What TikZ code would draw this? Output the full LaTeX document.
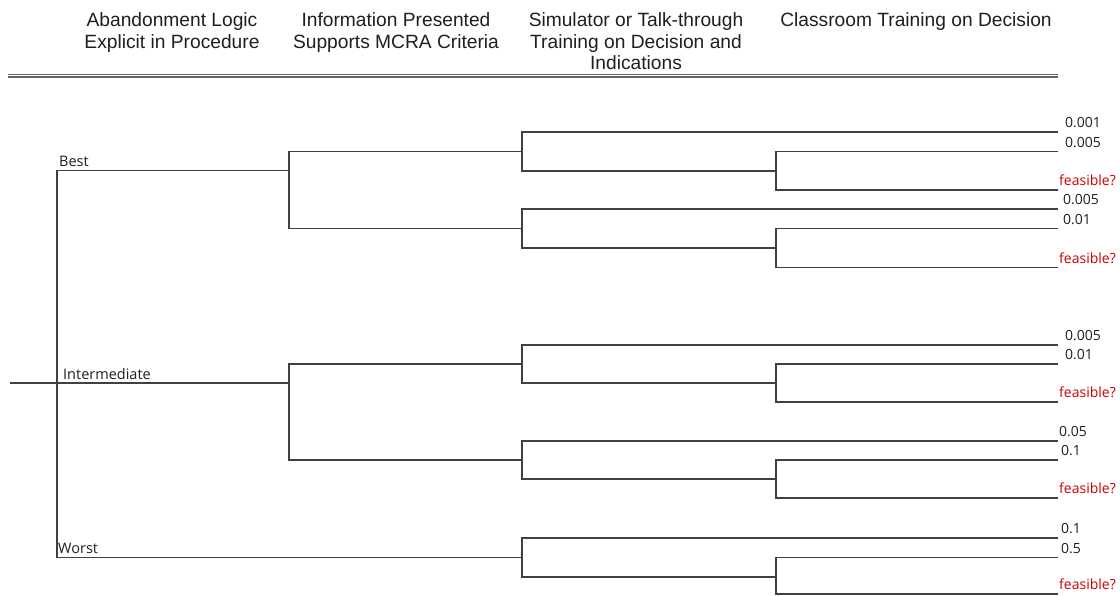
\documentclass[tikz,border=0pt]{standalone}
\usepackage{fontspec}
\setmainfont{Liberation Sans}
\newfontfamily\leaffont{Open Sans}
\begin{document}
\begin{tikzpicture}[x=1pt,y=-1pt,
  branch/.style={draw=black!75, line width=1.3pt},
  headrule/.style={draw=black!60, double=white, double distance=1.8pt, line width=1.1pt},
  head/.style={font=\fontsize{19.2}{21.5}\selectfont, align=center, inner sep=0pt, anchor=north, text=black!88},
  tag/.style={font=\leaffont\fontsize{14.5}{17}\selectfont, inner sep=0pt, anchor=base west, text=black!88},
  leafval/.style={tag, font=\leaffont\fontsize{14}{16}\selectfont},
  openq/.style={leafval, text=red!80!black}]
\useasboundingbox (0,0) rectangle (1120,595);

% column headings
\node[head] (c1) at (172,12.5) {Abandonment Logic\\Explicit in Procedure};
\node[head] (c2) at (396,12.5) {Information Presented\\Supports MCRA Criteria};
\node[head] (c3) at (636,12.5) {Simulator or Talk-through\\Training on Decision and\\Indications};
\node[head] (c4) at (916,12.5) {Classroom Training on Decision};

% double rule under the headings
\coordinate (r0) at (8,75.5);
\coordinate (r1) at (1058,75.5);
\draw[headrule] (r0) -- (r1);

% first decision: abandonment logic
\coordinate (root) at (10,383);
\coordinate (n0) at (57,383);
\coordinate (best) at (289,170.5);
\coordinate (inter) at (289,383);
\draw[branch] (root) -- (n0);
\draw[branch] (n0) |- (best);
\draw[branch] (n0) |- (inter);

\node[tag] (lbest) at (59,166.5) {Best};
\node[tag] (linter) at (63,379) {Intermediate};
\node[tag] (lworst) at (58,553) {Worst};

% second decision: information presented
\coordinate (g1) at (522,151.5);
\coordinate (g2) at (522,228.5);
\coordinate (g3) at (522,364);
\coordinate (g4) at (522,460);
\coordinate (g5) at (522,557.5);
\draw[branch] (best) |- (g1);
\draw[branch] (best) |- (g2);
\draw[branch] (inter) |- (g3);
\draw[branch] (inter) |- (g4);
\draw[branch] (n0) |- (g5);

% third and fourth decisions, with end values
\foreach \g/\a/\b/\c/\d/\xa/\va/\xb/\vb in {
    1/132/151.5/171/190/1065/0.001/1065/0.005,
    2/209/228.5/248/267.5/1063/0.005/1063/0.01,
    3/345/364/383/402/1065/0.005/1065/0.01,
    4/441/460/479/498/1059/0.05/1061/0.1,
    5/538/557.5/577/594/1061/0.1/1061/0.5} {
  \coordinate (h\g) at (776,\c);
  \coordinate (e\g a) at (1058,\a);
  \coordinate (e\g b) at (1058,\b);
  \coordinate (e\g d) at (1058,\d);
  \draw[branch] (g\g) |- (e\g a);
  \draw[branch] (g\g) |- (h\g);
  \draw[branch] (h\g) |- (e\g b);
  \draw[branch] (h\g) |- (e\g d);
  \node[leafval] (v\g a) at (\xa,\a-4.5) {\va};
  \node[leafval] (v\g b) at (\xb,\b-4.5) {\vb};
  \node[openq] (v\g d) at (1059,\d-4.5) {feasible?};
}
\end{tikzpicture}
\end{document}
